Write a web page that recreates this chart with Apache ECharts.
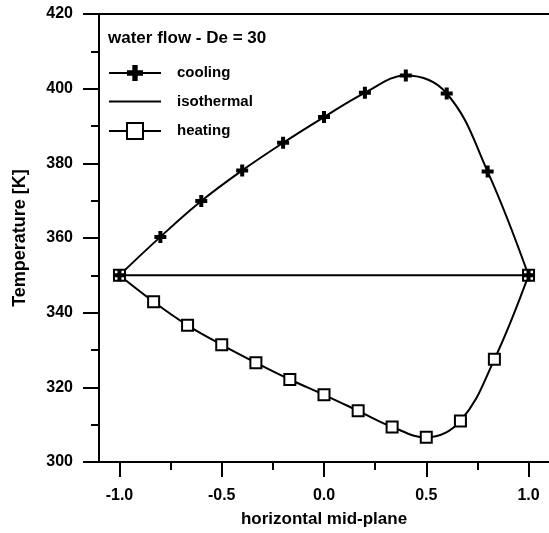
<!DOCTYPE html>
<html>
<head>
<meta charset="utf-8">
<script src="https://cdn.jsdelivr.net/npm/echarts@6/dist/echarts.min.js"></script>
<style>html,body{margin:0;padding:0;background:#fff;}#c{width:549px;height:533px;}</style>
</head>
<body>
<div id="c"></div>
<script>
// ---- data ----
var coolingX = [-1.0, -0.8, -0.6, -0.4, -0.2, 0.0, 0.2, 0.4, 0.6, 0.8, 1.0];
var coolingT = [350, 360.3, 369.9, 378.1, 385.5, 392.4, 398.9, 403.5, 398.7, 377.8, 350];
var heatingX = [-1.0, -0.833, -0.667, -0.5, -0.333, -0.167, 0.0, 0.167, 0.333, 0.5, 0.667, 0.833, 1.0];
var heatingT = [350, 342.9, 336.6, 331.4, 326.6, 322.1, 318.0, 313.7, 309.4, 306.6, 311.0, 327.5, 350];
var isoX = [-1.0, 1.0];
var isoT = [350, 350];
var xMajorTicks = [-1.0, -0.5, 0.0, 0.5, 1.0];
var xMinorTicks = [-0.75, -0.25, 0.25, 0.75];
var seriesNames = ['cooling', 'isothermal', 'heating'];
var titleText = 'water flow - De = 30';
var xTitle = 'horizontal mid-plane';
var yTitle = 'Temperature [K]';

function pairs(xs, ys) { return xs.map(function (x, i) { return [x, ys[i]]; }); }

var FONT = 'Liberation Sans, Arial, sans-serif';
var PLUS = 'path://M4,0H8V4H12V8H8V12H4V8H0V4H4Z';
var black = '#000';

var chart = echarts.init(document.getElementById('c'), null, { renderer: 'canvas' });
chart.setOption({
  animation: false,
  backgroundColor: '#fff',
  title: {
    text: titleText,
    left: 108, top: 30, padding: 0,
    textStyle: { fontFamily: FONT, fontSize: 17, fontWeight: 'bold', color: black }
  },
  legend: {
    data: seriesNames,
    orient: 'vertical',
    left: 108, top: 65, padding: 0,
    itemWidth: 52, itemHeight: 20, itemGap: 12.5,
    textStyle: { fontFamily: FONT, fontSize: 15, fontWeight: 'bold', color: black, padding: [0, 0, 0, 11] },
    selectedMode: false
  },
  grid: { left: 99, right: 0, top: 14, bottom: 69, containLabel: false },
  xAxis: [
    {
      type: 'value', min: -1.1, max: 1.1, position: 'bottom',
      name: xTitle, nameLocation: 'middle', nameGap: 49,
      nameTextStyle: { fontFamily: FONT, fontSize: 17, fontWeight: 'bold', color: black },
      axisLine: { show: true, onZero: false, lineStyle: { color: black, width: 2 } },
      axisTick: { show: true, customValues: xMajorTicks, length: 15, lineStyle: { color: black, width: 2 } },
      axisLabel: { customValues: xMajorTicks, margin: 26, fontFamily: FONT, fontSize: 16, fontWeight: 'bold', color: black,
        formatter: function (v) { return v.toFixed(1); } },
      splitLine: { show: false }
    },
    {
      type: 'value', min: -1.1, max: 1.1, position: 'bottom',
      axisLine: { show: false, onZero: false },
      axisTick: { show: true, customValues: xMinorTicks, length: 8, lineStyle: { color: black, width: 2 } },
      axisLabel: { show: false },
      splitLine: { show: false }
    },
    {
      type: 'value', min: -1.1, max: 1.1, position: 'top',
      axisLine: { show: true, onZero: false, lineStyle: { color: black, width: 2 } },
      axisTick: { show: false }, axisLabel: { show: false }, splitLine: { show: false }
    }
  ],
  yAxis: {
    type: 'value', min: 300, max: 420, interval: 20, position: 'left',
    name: yTitle, nameLocation: 'middle', nameGap: 70,
    nameTextStyle: { fontFamily: FONT, fontSize: 18, fontWeight: 'bold', color: black },
    axisLine: { show: true, onZero: false, lineStyle: { color: black, width: 2 } },
    axisTick: { show: true, length: 16, lineStyle: { color: black, width: 2 } },
    minorTick: { show: true, splitNumber: 2, length: 8, lineStyle: { color: black, width: 2 } },
    axisLabel: { margin: 26, fontFamily: FONT, fontSize: 16, fontWeight: 'bold', color: black },
    splitLine: { show: false }
  },
  series: [
    {
      name: 'isothermal', type: 'line', data: pairs(isoX, isoT),
      symbol: 'none', color: black,
      itemStyle: { color: 'rgba(0,0,0,0)' },
      lineStyle: { color: black, width: 2 }
    },
    {
      name: 'heating', type: 'line', data: pairs(heatingX, heatingT),
      smooth: 0.4, symbol: 'rect', symbolSize: 11, color: black,
      itemStyle: { color: '#fff', borderColor: black, borderWidth: 2 },
      lineStyle: { color: black, width: 2 }
    },
    {
      name: 'cooling', type: 'line', data: pairs(coolingX, coolingT),
      smooth: 0.4, symbol: PLUS, symbolSize: 12, color: black,
      itemStyle: { color: black },
      lineStyle: { color: black, width: 2 }
    }
  ]
});
</script>
</body>
</html>
